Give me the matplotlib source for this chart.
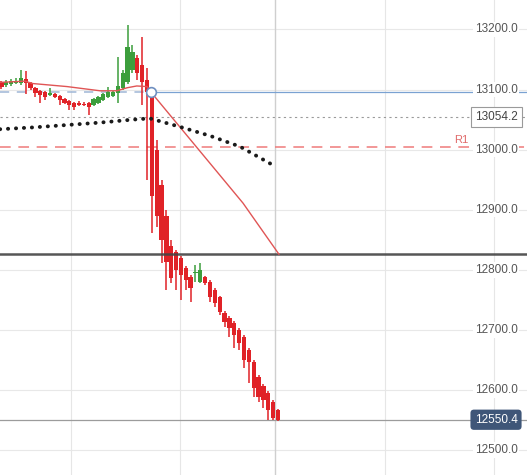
import matplotlib.pyplot as plt
from matplotlib.transforms import blended_transform_factory

# candle data
opens = [13113, 13108, 13109, 13111, 13111, 13118, 13111, 13103, 13098, 13096,
         13091, 13093, 13089, 13084, 13081, 13078, 13078, 13076, 13078, 13074,
         13078, 13083, 13088, 13089, 13094, 13103, 13113, 13133, 13152, 13141,
         13116, 13096, 12999, 12941, 12890, 12840, 12830, 12820, 12803, 12788,
         12794, 12780, 12788, 12780, 12766, 12755, 12728, 12720, 12711, 12700,
         12688, 12666, 12646, 12621, 12606, 12595, 12580, 12566]
highs = [13114, 13116, 13118, 13119, 13133, 13131, 13113, 13105, 13099, 13098,
         13103, 13094, 13091, 13086, 13083, 13079, 13081, 13079, 13079, 13086,
         13089, 13094, 13104, 13098, 13154, 13133, 13208, 13174, 13158, 13188,
         13136, 13099, 13016, 12950, 12900, 12850, 12833, 12823, 12806, 12791,
         12808, 12811, 12790, 12783, 12770, 12757, 12731, 12723, 12715, 12703,
         12691, 12670, 12650, 12625, 12610, 12598, 12583, 12568]
lows = [13101, 13104, 13106, 13109, 13108, 13093, 13099, 13088, 13078, 13083,
        13089, 13086, 13074, 13076, 13066, 13066, 13073, 13073, 13058, 13073,
        13076, 13081, 13086, 13088, 13078, 13099, 13109, 13128, 13116, 13074,
        12950, 12861, 12871, 12811, 12766, 12778, 12766, 12750, 12766, 12746,
        12779, 12778, 12775, 12746, 12738, 12725, 12705, 12688, 12670, 12666,
        12636, 12611, 12588, 12580, 12570, 12550, 12550, 12549]
closes = [13104, 13113, 13114, 13114, 13119, 13111, 13103, 13094, 13091, 13088,
          13094, 13088, 13083, 13078, 13074, 13071, 13074, 13074, 13071, 13084,
          13088, 13093, 13096, 13096, 13106, 13128, 13171, 13162, 13128, 13113,
          13096, 12923, 12890, 12850, 12813, 12786, 12800, 12791, 12783, 12770,
          12797, 12800, 12778, 12755, 12745, 12730, 12713, 12703, 12691, 12678,
          12650, 12646, 12603, 12588, 12583, 12567, 12553, 12550.4]

# red trend line (candle index, price)
trend_x = [-0.3, 4.8, 6.5, 13.5, 20.3, 23.8, 25.9, 27.9, 30.0, 30.8, 49.8, 57.2]
trend_y = [13112, 13114, 13110, 13105, 13098, 13098, 13103, 13106, 13105, 13096, 12911, 12826]

# black dotted average
ma_x = [-0.3, 6.5, 13.5, 20.3, 27.1, 30.6, 36.8, 43.0, 49.2, 56.7]
ma_y = [13034, 13037, 13041, 13045, 13050, 13052, 13038, 13023, 13005, 12971]

pivot_idx = 30.8
pivot_price = 13096
prev_close = 13054.2
r1 = 13005
support = 12826
last_price = 12550.4
price_ticks = [12500, 12600, 12700, 12800, 12900, 13000, 13100, 13200]
time_grid = [14.3, 36.8, 79.1, 101.5]
now_line = 56.4

UP = '#3c9e3c'
DOWN = '#e02227'

fig = plt.figure(figsize=(5.27, 4.75), dpi=100)
ax = fig.add_axes([0, 0, 1, 1])
ax.set_xlim(-0.3, 108.35)
ax.set_ylim(12458.4, 13249.1)
ax.axis('off')

# grid
for p in price_ticks:
    ax.axhline(p, color='#e8e8e8', lw=0.8, zorder=0)
for t in time_grid:
    ax.axvline(t, color='#e6e6e6', lw=0.8, zorder=0)
ax.axvline(now_line, color='#cfcfcf', lw=1, zorder=0)

# candles
for i, (o, h, l, c) in enumerate(zip(opens, highs, lows, closes)):
    col = UP if c >= o else DOWN
    ax.vlines(i, l, h, color=col, lw=1.1, zorder=2)
    ax.bar(i, abs(c - o) or 0.8, bottom=min(o, c), width=0.88, color=col,
           lw=0, zorder=3)

# levels
ax.axhline(r1, color='#ef7b7b', lw=1.1, dashes=(7, 5), zorder=1)
ax.axhline(prev_close, color='#9a9a9a', lw=0.8, ls=(0, (2, 3)), zorder=1)
ax.axhline(last_price, color='#9c9c9c', lw=0.9, zorder=1)
ax.axhline(support, color='#444444', lw=1.8, alpha=0.9, zorder=4)
ax.plot([-0.3, pivot_idx], [pivot_price, pivot_price], color='#9fb6d6', lw=1.1,
        dashes=(6, 5), zorder=1)
ax.plot([pivot_idx, 108.35], [pivot_price, pivot_price], color='#7aa2d2', lw=0.9, zorder=1)

ax.plot(trend_x, trend_y, color='#e05555', lw=1, zorder=5)
ax.plot(ma_x, ma_y, color='#1a1a1a', lw=2.8, ls=(0, (0.05, 2.0)),
        dash_capstyle='round', zorder=6)
ax.plot(pivot_idx, pivot_price, 'o', ms=7, mfc='white', mec='#6f8fc0', mew=1.2, zorder=7)

# price scale labels
tr = blended_transform_factory(ax.transAxes, ax.transData)
for p in price_ticks:
    ax.text(0.9412, p, f'{p:.1f}', transform=tr, ha='center', va='center',
            fontsize=8.5, family='Liberation Sans', color='#555555', zorder=8,
            bbox=dict(boxstyle='square,pad=0.15', fc='white', ec='none'))
ax.text(0.9412, prev_close, f'{prev_close:.1f}', transform=tr, ha='center', va='center',
        fontsize=8.5, family='Liberation Sans', color='#444444', zorder=9,
        bbox=dict(boxstyle='square,pad=0.35', fc='white', ec='#9a9a9a', lw=0.8))
ax.text(0.9412, last_price, f'{last_price:.1f}', transform=tr, ha='center', va='center',
        fontsize=8.5, family='Liberation Sans', color='white', zorder=9,
        bbox=dict(boxstyle='round,pad=0.35,rounding_size=0.3', fc='#3f5678', ec='none'))
ax.text(0.875, r1 + 3, 'R1', transform=tr, ha='center', va='bottom',
        fontsize=8, family='Liberation Sans', color='#e06a6a', zorder=8)

fig.savefig('out.png', dpi=100)
